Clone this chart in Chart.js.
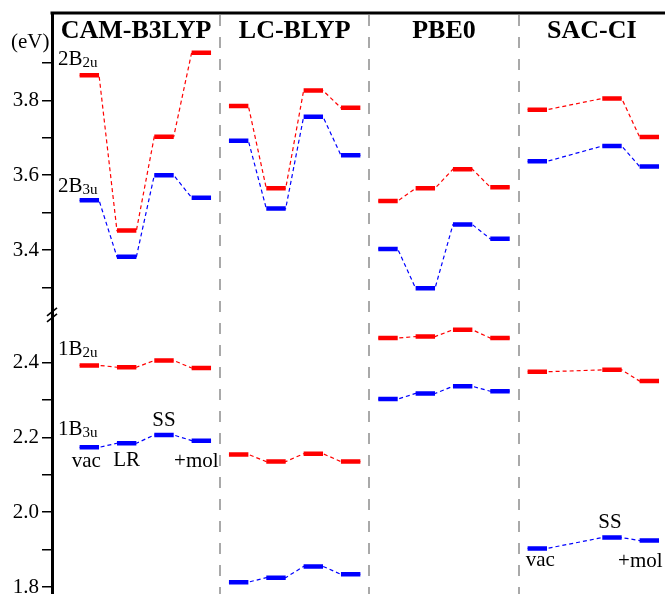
<!DOCTYPE html>
<html>
<head>
<meta charset="utf-8">
<script src="https://cdn.jsdelivr.net/npm/chart.js@4"></script>
<style>
  html, body { margin: 0; padding: 0; background: #fff; }
  #wrap { width: 665px; height: 594px; }
</style>
</head>
<body>
<div id="wrap"><canvas id="myChart"></canvas></div>
<script>
// panels and solvation models, one slot per method x model (SAC-CI has no LR)
const methods = ['CAM-B3LYP', 'LC-BLYP', 'PBE0', 'SAC-CI'];
const models = ['vac', 'LR', 'SS', '+mol'];

// excitation energies in eV, 16 slots: 4 methods x (vac, LR, SS, +mol)
const b2u2 = [3.867, 3.452, 3.703, 3.927, 3.785, 3.565, 3.826, 3.780, 3.531, 3.565, 3.616, 3.568, 3.775, null, 3.805, 3.702];
const b3u2 = [3.533, 3.382, 3.600, 3.540, 3.692, 3.511, 3.756, 3.653, 3.403, 3.298, 3.468, 3.430, 3.637, null, 3.678, 3.623];
const b2u1 = [2.392, 2.387, 2.405, 2.385, 2.154, 2.135, 2.156, 2.135, 2.465, 2.469, 2.487, 2.465, 2.375, null, 2.380, 2.350];
const b3u1 = [2.173, 2.184, 2.206, 2.191, 1.813, 1.825, 1.855, 1.834, 2.302, 2.317, 2.336, 2.323, 1.903, null, 1.932, 1.924];

const yTickValues = [1.8, 1.9, 2.0, 2.1, 2.2, 2.3, 2.4, 3.3, 3.4, 3.5, 3.6, 3.7, 3.8, 3.9];

// broken axis: everything above the break is shifted down by breakGap
const breakAt = 3.0;
const breakGap = 0.7;
const toAxis = (v) => (v > breakAt ? v - breakGap : v);
const fromAxis = (v) => (v > 2.55 ? v + breakGap : v);

const RED = 'rgb(255, 0, 0)';
const BLUE = 'rgb(0, 0, 255)';
const halfW = 0.26;

function levelPoints(vals) {
  let pts = [];
  for (let i = 0; i < vals.length; i++) {
    if (vals[i] == null) continue;
    const x = i + 1;
    pts.push({ x: x - halfW, y: toAxis(vals[i]) });
    pts.push({ x: x + halfW, y: toAxis(vals[i]) });
    pts.push({ x: x + 0.5, y: null });
  }
  return pts;
}

function linkPoints(vals) {
  let pts = [];
  for (let m = 0; m < methods.length; m++) {
    for (let k = 0; k < models.length; k++) {
      const i = m * models.length + k;
      if (vals[i] == null) continue;
      pts.push({ x: i + 1 - halfW, y: toAxis(vals[i]) });
      pts.push({ x: i + 1 + halfW, y: toAxis(vals[i]) });
    }
    pts.push({ x: m * 4 + 4.5, y: null });
  }
  return pts;
}

const series = [
  { vals: b2u2, color: RED },
  { vals: b3u2, color: BLUE },
  { vals: b2u1, color: RED },
  { vals: b3u1, color: BLUE },
];

let datasets = [];
series.forEach((s) => {
  datasets.push({
    data: linkPoints(s.vals),
    borderColor: s.color,
    borderWidth: 1.2,
    borderDash: [4, 3],
    pointRadius: 0,
    tension: 0,
  });
});
series.forEach((s) => {
  datasets.push({
    data: levelPoints(s.vals),
    borderColor: s.color,
    borderWidth: 4.5,
    borderCapStyle: 'butt',
    pointRadius: 0,
    tension: 0,
  });
});

const serif = "'Liberation Serif', 'Times New Roman', serif";

function subText(ctx, main, sub, x, y) {
  ctx.font = '21px ' + serif;
  ctx.textAlign = 'left';
  ctx.fillText(main, x, y);
  const w = ctx.measureText(main).width;
  ctx.font = '15px ' + serif;
  ctx.fillText(sub, x + w, y + 2);
}

const decor = {
  id: 'decor',
  beforeDatasetsDraw(chart) {
    const ctx = chart.ctx;
    const xs = chart.scales.x;
    const area = chart.chartArea;
    ctx.save();
    ctx.strokeStyle = '#a9a9a9';
    ctx.lineWidth = 2;
    ctx.setLineDash([11, 11]);
    [4.5, 8.5, 12.5].forEach((b) => {
      const px = Math.round(xs.getPixelForValue(b));
      ctx.beginPath();
      ctx.moveTo(px, area.top + 2);
      ctx.lineTo(px, area.bottom);
      ctx.stroke();
    });
    ctx.restore();
  },
  afterDraw(chart) {
    const ctx = chart.ctx;
    const xs = chart.scales.x;
    const ys = chart.scales.y;
    const area = chart.chartArea;
    ctx.save();
    // top frame line
    ctx.strokeStyle = '#000';
    ctx.lineWidth = 3;
    ctx.beginPath();
    ctx.moveTo(area.left - 1.5, area.top);
    ctx.lineTo(area.right, area.top);
    ctx.stroke();

    // axis break mark
    const by = ys.getPixelForValue(2.527);
    ctx.lineWidth = 1.6;
    [-3, 3].forEach((d) => {
      ctx.beginPath();
      ctx.moveTo(area.left - 5, by + d + 4);
      ctx.lineTo(area.left + 5, by + d - 4);
      ctx.stroke();
    });

    // panel titles
    const bounds = [xs.min, 4.5, 8.5, 12.5, xs.max];
    ctx.fillStyle = '#000';
    ctx.font = 'bold 26px ' + serif;
    ctx.textAlign = 'center';
    ctx.textBaseline = 'alphabetic';
    methods.forEach((m, i) => {
      const cx = xs.getPixelForValue((bounds[i] + bounds[i + 1]) / 2);
      ctx.fillText(m, cx, 38);
    });

    // unit
    ctx.font = '21px ' + serif;
    ctx.textAlign = 'left';
    ctx.fillText('(eV)', 11, 48);

    // state names above the vacuum levels
    const lx = xs.getPixelForValue(0.16);
    subText(ctx, '2B', '2u', lx, ys.getPixelForValue(toAxis(b2u2[0])) - 10);
    subText(ctx, '2B', '3u', lx, ys.getPixelForValue(toAxis(b3u2[0])) - 8);
    subText(ctx, '1B', '2u', lx, ys.getPixelForValue(b2u1[0]) - 10);
    subText(ctx, '1B', '3u', lx, ys.getPixelForValue(b3u1[0]) - 12);

    // model labels
    ctx.font = '21px ' + serif;
    ctx.textAlign = 'center';
    const lab = (txt, i, dx, dy) => {
      ctx.fillText(txt, xs.getPixelForValue(i + 1) + dx, ys.getPixelForValue(b3u1[i]) + dy);
    };
    lab('vac', 0, -3, 20);
    lab('LR', 1, 0, 23);
    lab('SS', 2, 0, -9);
    lab('+mol', 3, -5, 26);
    lab('vac', 12, 3, 18);
    lab('SS', 14, -2, -10);
    lab('+mol', 15, -9, 26);
    ctx.restore();
  },
};

const config = {
  type: 'line',
  data: { datasets: datasets },
  options: {
    responsive: true,
    maintainAspectRatio: false,
    animation: false,
    layout: { padding: { top: 13, right: 0, bottom: 0, left: 0 } },
    plugins: { legend: { display: false }, tooltip: { enabled: false } },
    scales: {
      x: { type: 'linear', min: 0, max: 16.42, display: false },
      y: {
        type: 'linear',
        min: 1.7813,
        max: 3.3333,
        afterBuildTicks: (scale) => {
          scale.ticks = yTickValues.map((v) => ({ value: toAxis(v) }));
        },
        afterFit: (scale) => {
          scale.width = 52;
          scale.paddingTop = 0;
          scale.paddingBottom = 0;
        },
        ticks: {
          color: '#000',
          padding: 3,
          font: { family: serif, size: 21 },
          callback: (value) => {
            const real = fromAxis(value);
            return Math.round(real * 10) % 2 === 0 ? real.toFixed(1) : '';
          },
        },
        grid: {
          drawOnChartArea: false,
          drawTicks: true,
          tickLength: 10,
          color: '#000',
          lineWidth: 1.5,
        },
        border: { display: true, color: '#000', width: 3 },
      },
    },
  },
  plugins: [decor],
};

const myChart = new Chart(document.getElementById('myChart'), config);
</script>
</body>
</html>
